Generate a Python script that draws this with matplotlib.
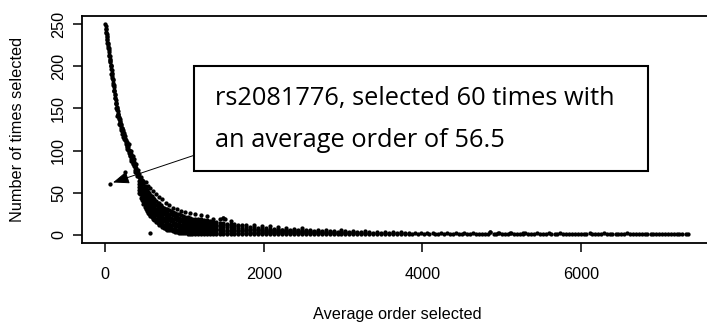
import matplotlib.pyplot as plt
import numpy as np
from matplotlib.patches import Rectangle

# steep upper part of the curve (average order selected, number of times selected)
steep_x = [2, 5, 8, 11, 14, 17, 20, 24, 27, 31, 34, 37, 41, 44, 48, 51, 55, 58, 62, 65,
           69, 72, 76, 79, 83, 86, 90, 94, 97, 101, 105, 108, 112, 116, 119, 123, 127, 131,
           135, 139, 143, 147, 151, 156, 160, 165, 170, 175, 180, 185, 190, 196, 202, 208,
           214, 220, 227, 233, 240, 247, 254, 261, 268, 276, 284, 292, 300, 309, 318, 327,
           336, 346, 356, 366, 376, 387, 398]
steep_y = [250, 248, 245, 244, 240, 239, 236, 233, 232, 228, 227, 224, 222, 219, 217, 214,
           212, 209, 208, 205, 202, 201, 197, 196, 192, 191, 189, 185, 184, 180, 178, 176,
           172, 171, 167, 166, 162, 160, 157, 156, 152, 151, 148, 147, 144, 143, 140, 139,
           137, 135, 134, 131, 130, 127, 127, 124, 122, 121, 118, 117, 114, 113, 110, 109,
           106, 104, 101, 100, 96, 95, 91, 90, 86, 85, 81, 79, 76]

# points just right of the steep curve
steep2_x = [10, 18, 26, 36, 46, 57, 67, 78, 88, 99, 110, 121, 133, 145, 158, 172, 186, 200,
            215, 230, 246, 262, 280, 298, 316, 334, 352, 372, 392]
steep2_y = [241, 235, 228, 222, 213, 206, 200, 191, 186, 178, 171, 163, 155, 149, 142, 137,
            132, 127, 123, 119, 114, 110, 105, 99, 95, 90, 85, 80, 75]

# points that thicken the band where it starts to bend
band_x = [150, 172, 195, 212, 228, 243, 258, 270, 282, 296, 306, 320, 331, 344, 356, 369,
          381, 394, 405, 302, 326, 349, 366, 388, 410, 418, 136, 186, 236, 280, 330]
band_y = [141, 132, 124, 120, 116, 112, 108, 104, 101, 97, 94, 90, 87, 84, 81, 77, 74, 72,
          70, 108, 100, 94, 90, 84, 77, 73, 151, 130, 114, 102, 88]

# the knee: one x per column, several y values per column
knee_x = [420, 435, 450, 465, 480, 495, 510, 525, 540, 555, 570, 585, 600, 620, 640, 660,
          680, 700, 720, 740, 760, 780, 800, 825, 850, 875, 900, 925, 950, 980, 1010, 1040,
          1070, 1100, 1135, 1170, 1205, 1240, 1280, 1320, 1360, 1400, 1445, 1490, 1535, 1580]
knee_y = [[50, 53, 57, 60, 64, 68, 72], [48, 51, 55, 58, 62, 66], [44, 48, 51, 55, 59, 63, 68],
          [41, 45, 48, 52, 56, 60, 65], [36, 40, 44, 48, 52, 56, 60, 64], [33, 37, 41, 45, 49, 53, 58],
          [30, 34, 38, 42, 46, 50, 55, 62], [28, 32, 36, 40, 44, 48, 53], [26, 30, 34, 38, 42, 46, 51, 58],
          [24, 28, 32, 36, 40, 44, 49], [22, 26, 30, 34, 38, 42, 47, 55], [21, 25, 29, 33, 37, 41, 46],
          [19, 23, 27, 31, 35, 39, 44, 52], [17, 21, 25, 29, 33, 37, 42], [15, 19, 23, 27, 31, 35, 40, 48],
          [14, 18, 22, 26, 30, 34, 38], [12, 16, 20, 24, 28, 32, 37, 45], [11, 14, 18, 22, 26, 30, 35],
          [9, 13, 17, 21, 25, 29, 33, 42], [8, 12, 16, 20, 24, 28, 32], [7, 11, 15, 19, 23, 27, 31, 38],
          [6, 10, 14, 18, 22, 26, 30], [5, 9, 13, 17, 21, 25, 29, 35], [5, 8, 12, 16, 20, 24, 28],
          [4, 7, 11, 15, 19, 23, 27, 32], [3, 7, 10, 14, 18, 22, 26], [3, 6, 10, 13, 17, 21, 25, 30],
          [2, 6, 9, 13, 16, 20, 24], [2, 5, 9, 12, 16, 19, 23, 28], [2, 5, 8, 12, 15, 19, 22],
          [2, 5, 8, 11, 15, 18, 21, 27], [1, 4, 8, 11, 14, 17, 21], [1, 4, 7, 10, 14, 17, 20, 26],
          [1, 4, 7, 10, 13, 16, 19], [1, 4, 7, 10, 13, 16, 19, 24], [1, 3, 6, 9, 12, 15, 18],
          [1, 3, 6, 9, 12, 15, 18, 23], [1, 3, 6, 9, 12, 14, 17], [1, 3, 6, 8, 11, 14, 17, 22],
          [1, 3, 5, 8, 11, 13, 16], [1, 3, 5, 8, 10, 13, 15, 19], [1, 3, 5, 7, 10, 12, 15],
          [1, 2, 5, 7, 9, 12, 14, 18], [1, 2, 4, 7, 9, 11, 14, 20], [1, 2, 4, 6, 9, 11, 13],
          [1, 2, 4, 6, 8, 10, 13, 16]]

# the flattening tail
tail_x = [1630, 1680, 1730, 1780, 1830, 1880, 1930, 1980, 2030, 2080, 2130, 2180, 2230, 2280,
          2330, 2380, 2430, 2480, 2530, 2580, 2630, 2680, 2730, 2780, 2830, 2880, 2930, 2980,
          3030, 3080, 3130, 3180, 3230, 3280, 3330, 3380, 3430, 3480, 3530, 3580, 3630, 3680,
          3730, 3780, 3830]
tail_y = [[1, 2, 4, 6, 8, 10, 13], [1, 2, 4, 6, 8, 10, 12], [1, 2, 4, 6, 8, 11], [1, 2, 4, 5, 7, 9, 12],
          [1, 2, 3, 5, 7, 9], [1, 2, 3, 5, 7, 9, 11], [1, 2, 3, 5, 6, 8], [1, 2, 3, 5, 6, 8, 10],
          [1, 2, 3, 4, 6, 8], [1, 2, 3, 4, 6, 7, 10], [1, 2, 3, 4, 5, 7], [1, 2, 3, 4, 5, 7, 9],
          [1, 2, 3, 4, 5, 6], [1, 2, 3, 4, 5, 6, 8], [1, 2, 3, 4, 6], [1, 2, 3, 4, 5, 7],
          [1, 2, 3, 4, 5], [1, 2, 3, 4, 5, 8], [1, 2, 3, 4, 5], [1, 2, 3, 4, 6], [1, 2, 3, 4],
          [1, 2, 3, 4, 5], [1, 2, 3, 4], [1, 2, 3, 5], [1, 2, 3, 4], [1, 2, 3, 4], [1, 2, 3],
          [1, 2, 3, 5], [1, 2, 3, 4], [1, 2, 3], [1, 2, 3, 4], [1, 2, 3], [1, 2, 3], [1, 2, 4],
          [1, 2, 3], [1, 2], [1, 2, 3], [1, 2], [1, 2, 3], [1, 2], [1, 2, 3], [1, 2], [1, 2, 3],
          [1, 2], [1, 2]]

# far tail, almost all selected once
far_x = [3870, 3905, 3945, 3980, 4020, 4055, 4090, 4130, 4165, 4200, 4240, 4275, 4310, 4350,
         4385, 4420, 4460, 4495, 4530, 4570, 4605, 4640, 4680, 4715, 4750, 4790, 4825, 4860,
         4900, 4935, 4970, 5010, 5045, 5080, 5120, 5155, 5190, 5230, 5265, 5300, 5340, 5375,
         5410, 5450, 5485, 5520, 5560, 5595, 5630, 5670, 5705, 5740, 5780, 5815, 5850, 5890,
         5925, 5960, 6000, 6035, 6070, 6110, 6145, 6180, 6220, 6255, 6290, 6330, 6365, 6400,
         6440, 6475, 6510, 6550, 6585, 6620, 6660, 6695, 6730, 6770, 6805, 6840, 6880, 6915,
         6950, 6990, 7025, 7060, 7100, 7135, 7170, 7210, 7245, 7280, 7330, 7357]
far_y = [1, 2, 1, 2, 1, 2, 1, 2, 1, 1, 2, 1, 2, 1, 1, 2, 1, 1, 2, 1, 1, 2, 1, 1, 1, 1, 1, 3,
         1, 1, 2, 1, 1, 1, 2, 1, 1, 1, 1, 2, 1, 1, 1, 2, 1, 1, 1, 2, 1, 1, 1, 2, 1, 1, 1, 1,
         1, 1, 1, 1, 1, 2, 1, 1, 1, 1, 2, 1, 1, 1, 1, 1, 1, 1, 2, 1, 1, 1, 1, 1, 1, 1, 1, 1,
         1, 1, 1, 1, 1, 1, 1, 1, 1, 1, 1, 1]

# scattered single points off the main band
stray_x = [250, 565, 669, 1510, 1490, 4855, 4950, 5110, 5270]
stray_y = [75, 2, 16, 19, 20, 3, 2, 2, 2]

# the highlighted SNP
snp_x = [56.5]
snp_y = [60]

label_text = ["rs2081776, selected 60 times with", "an average order of 56.5"]

xs = list(steep_x) + list(steep2_x) + list(band_x) + list(far_x) + list(stray_x) + list(snp_x)
ys = list(steep_y) + list(steep2_y) + list(band_y) + list(far_y) + list(stray_y) + list(snp_y)
for cx, col in zip(knee_x, knee_y):
    xs += [cx] * len(col)
    ys += col
for cx, col in zip(tail_x, tail_y):
    xs += [cx] * len(col)
    ys += col

plt.rcParams['font.family'] = 'Liberation Sans'

fig = plt.figure(figsize=(7.07, 3.22), dpi=100)
# right edge of the box falls outside the picture, as in the original
ax = fig.add_axes([82 / 707, 1 - 243 / 322, 640 / 707, 227 / 322])

ax.scatter(xs, ys, s=9.5, color='black', linewidths=0, zorder=3)

ax.set_xlim(-294, -294 + 640 / 0.07925)
ax.set_ylim(-10, 260)
ax.set_xticks([0, 2000, 4000, 6000])
ax.set_yticks([0, 50, 100, 150, 200, 250])

for sp in ax.spines.values():
    sp.set_linewidth(1.3)
ax.tick_params(direction='out', length=6.5, width=1.1, labelsize=11.7, color='black')
ax.tick_params(axis='x', pad=10.5)
ax.tick_params(axis='y', pad=5, labelrotation=90)
for lbl in ax.get_yticklabels():
    lbl.set_va('center')

fig.text(18 / 707, 1 - 129.5 / 322, 'Number of times selected', rotation=90,
         ha='center', va='center', fontsize=11.7)
fig.text(397 / 707, 1 - 314 / 322, 'Average order selected',
         ha='center', va='center', fontsize=11.7)

# callout box with the label
box = Rectangle((194 / 707, 1 - 171 / 322), 454 / 707, 105 / 322, transform=fig.transFigure,
                facecolor='white', edgecolor='black', linewidth=1.5, zorder=5)
fig.patches.append(box)
fig.text(215 / 707, 1 - 105 / 322, label_text[0], fontsize=18.3, family='Open Sans',
         va='baseline', ha='left', zorder=6)
fig.text(215 / 707, 1 - 147 / 322, label_text[1], fontsize=18.3, family='Open Sans',
         va='baseline', ha='left', zorder=6)

ax.annotate('', xy=(97, 62), xycoords='data',
            xytext=(195 / 707, 1 - 155 / 322), textcoords='figure fraction',
            arrowprops=dict(arrowstyle='-|>,head_length=0.9,head_width=0.35',
                            mutation_scale=11, color='black', lw=0.7,
                            shrinkA=0, shrinkB=0))

fig.savefig('out.png', dpi=100)
